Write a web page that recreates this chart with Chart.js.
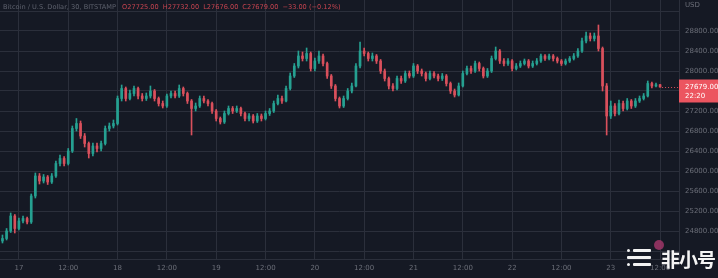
<!DOCTYPE html>
<html>
<head>
<meta charset="utf-8">
<script src="https://cdn.jsdelivr.net/npm/chart.js@4.4.0/dist/chart.umd.min.js"></script>
<style>
html, body { margin: 0; padding: 0; background: #151924; }
#wrap { position: relative; width: 718px; height: 278px; overflow: hidden; }
#legend { position: absolute; left: 3px; top: 3px; font: 6.6px "DejaVu Sans", sans-serif; color: #5d616d; white-space: nowrap; }
#legend span { color: #c4434f; margin-left: 4px; }
#mark { position: absolute; left: 624px; top: 240px; width: 94px; height: 34px; }
#mark .bar { position: absolute; height: 3px; background: #f2f2f2; border-radius: 1px; }
#mark .dot { position: absolute; width: 3px; height: 3px; background: #f2f2f2; border-radius: 2px; }
#mark .ring { position: absolute; left: 30px; top: 0px; width: 10px; height: 10px; border-radius: 6px; background: #a8376c; opacity: 0.8; }
#mark .txt { position: absolute; left: 37px; top: 5px; font: bold 19px "Noto Sans CJK SC", sans-serif; color: #f4f4f4; letter-spacing: -1px; }
</style>
</head>
<body>
<div id="wrap">
  <canvas id="chart" width="718" height="278"></canvas>
  <div id="legend">Bitcoin / U.S. Dollar, 30, BITSTAMP <span>O27725.00</span><span>H27732.00</span><span>L27676.00</span><span>C27679.00</span><span>−33.00 (−0.12%)</span></div>
  <div id="mark">
    <div class="dot" style="left:3px;top:9px"></div>
    <div class="bar" style="left:9px;top:9px;width:18px"></div>
    <div class="bar" style="left:3px;top:16px;width:24px"></div>
    <div class="dot" style="left:3px;top:23px"></div>
    <div class="bar" style="left:9px;top:23px;width:18px"></div>
    <div class="ring"></div>
    <div class="txt">非小号</div>
  </div>
</div>
<script>
// hourly candles, first one at hour -4 (20:00 on the 16th)
var firstHour = -4;
var dayLabels = ['17', '18', '19', '20', '21', '22', '23'];
var timeTicks = [0, 12, 24, 36, 48, 60, 72, 84, 96, 108, 120, 132, 144, 156];
var priceTicks = [24400, 24800, 25200, 25600, 26000, 26400, 26800, 27200, 27600, 28000, 28400, 28800, 29200];

var opens = [24600,24650,24800,25100,24850,25000,25050,24980,25500,25900,
  25800,25880,25780,25900,26150,26250,26150,26400,26850,26950,
  26700,26550,26350,26500,26450,26550,26850,26900,26950,27450,
  27650,27450,27550,27650,27500,27450,27500,27600,27450,27350,
  27300,27500,27550,27500,27650,27550,27400,27250,27300,27450,
  27400,27350,27200,27050,26980,27150,27250,27200,27250,27150,
  27050,27100,27000,27100,27050,27150,27200,27350,27450,27400,
  27650,27900,28100,28300,28250,28350,28050,28200,28300,28150,
  27900,27700,27450,27300,27450,27600,27700,28100,28400,28350,
  28250,28300,28200,28000,27850,27700,27650,27850,27800,27950,
  27900,28100,28000,27950,27850,27950,27900,27850,27900,27750,
  27600,27520,27700,27950,28050,28000,28150,28050,27900,28000,
  28250,28400,28200,28150,28200,28050,28100,28150,28200,28100,
  28150,28200,28300,28250,28300,28250,28200,28150,28200,28250,
  28300,28400,28600,28700,28650,28700,28450,27700,27100,27300,
  27150,27350,27250,27400,27300,27400,27450,27500,27750,27700,
  27725];

var highs = [24720,24850,25160,25130,25060,25100,25080,25540,25960,25950,
  25930,25910,25950,26200,26320,26290,26450,26900,27050,27000,
  26750,26580,26560,26560,26600,26900,26960,27020,27500,27720,
  27680,27620,27700,27680,27550,27560,27700,27630,27480,27400,
  27540,27600,27600,27720,27680,27580,27430,27360,27500,27500,
  27430,27380,27230,27080,27200,27300,27290,27300,27280,27180,
  27150,27130,27150,27140,27200,27250,27400,27520,27500,27700,
  27960,28150,28400,28380,28460,28380,28260,28400,28340,28180,
  27930,27730,27480,27500,27650,27760,28150,28580,28460,28380,
  28360,28330,28230,28040,27880,27750,27900,27900,28000,28000,
  28150,28130,28040,27980,28000,27990,27940,27950,27930,27780,
  27640,27760,28000,28100,28100,28200,28180,28080,28050,28300,
  28480,28430,28250,28250,28230,28150,28200,28240,28230,28200,
  28250,28340,28330,28340,28330,28280,28230,28240,28290,28350,
  28450,28660,28780,28760,28760,28920,28480,27750,27400,27350,
  27420,27400,27450,27430,27450,27500,27550,27800,27780,27760,
  27732];

var lows = [24560,24620,24770,24760,24820,24960,24940,24950,25460,25740,
  25760,25730,25750,25870,26100,26100,26120,26370,26800,26650,
  26480,26260,26300,26380,26400,26520,26800,26860,26920,27400,
  27400,27420,27500,27440,27400,27410,27460,27400,27300,27260,
  27270,27460,27460,27470,27500,27350,26720,27200,27270,27360,
  27300,27150,27000,26940,26950,27120,27150,27170,27100,27000,
  27000,26960,26970,27000,27020,27110,27170,27320,27350,27380,
  27620,27870,28060,28200,28200,28000,28000,28150,28100,27850,
  27650,27400,27260,27270,27420,27560,27680,28060,28300,28200,
  28200,28150,27950,27800,27640,27600,27620,27750,27770,27860,
  27870,27950,27900,27800,27820,27860,27800,27810,27700,27550,
  27480,27500,27680,27920,27950,27970,28000,27860,27870,27970,
  28220,28150,28100,28110,28000,28020,28070,28120,28060,28070,
  28120,28170,28210,28220,28200,28160,28110,28120,28170,28220,
  28270,28370,28560,28600,28600,28400,27600,26720,27050,27100,
  27120,27200,27220,27250,27270,27370,27420,27480,27660,27680,
  27676];

var closes = [24650,24800,25100,24850,25000,25050,24980,25500,25900,25800,
  25880,25780,25900,26150,26250,26150,26400,26850,26950,26700,
  26550,26350,26500,26450,26550,26850,26900,26950,27450,27650,
  27450,27550,27650,27500,27450,27500,27600,27450,27350,27300,
  27500,27550,27500,27650,27550,27400,27250,27300,27450,27400,
  27350,27200,27050,26980,27150,27250,27200,27250,27150,27050,
  27100,27000,27100,27050,27150,27200,27350,27450,27400,27650,
  27900,28100,28300,28250,28350,28050,28200,28300,28150,27900,
  27700,27450,27300,27450,27600,27700,28100,28400,28350,28250,
  28300,28200,28000,27850,27700,27650,27850,27800,27950,27900,
  28100,28000,27950,27850,27950,27900,27850,27900,27750,27600,
  27520,27700,27950,28050,28000,28150,28050,27900,28000,28250,
  28400,28200,28150,28200,28050,28100,28150,28200,28100,28150,
  28200,28300,28250,28300,28250,28200,28150,28200,28250,28300,
  28400,28600,28700,28650,28700,28450,27700,27100,27300,27150,
  27350,27250,27400,27300,27400,27450,27500,27750,27700,27725,
  27679];

var upColor = '#26a091';
var downColor = '#d9505c';

var wicks = [];
var bodies = [];
var colors = [];
for (var i = 0; i < closes.length; i++) {
    var h = firstHour + i;
    wicks.push({x: h, y: [lows[i], highs[i]]});
    bodies.push({x: h, y: [opens[i], closes[i]]});
    colors.push(closes[i] >= opens[i] ? upColor : downColor);
}

var gridColor = '#2b2f3b';
var tickColor = '#6b6e78';

var extras = {
    id: 'extras',
    beforeDraw: function (chart) {
        var c = chart.ctx;
        c.save();
        c.fillStyle = '#151924';
        c.fillRect(0, 0, chart.width, chart.height);
        c.restore();
    },
    afterDraw: function (chart) {
        var c = chart.ctx;
        var a = chart.chartArea;
        var last = closes[closes.length - 1];
        var py = Math.round(chart.scales.y.getPixelForValue(last)) + 0.5;
        var lx = chart.scales.x.getPixelForValue(firstHour + closes.length - 1);
        c.save();
        c.strokeStyle = downColor;
        c.lineWidth = 1;
        c.setLineDash([1, 2]);
        c.beginPath();
        c.moveTo(lx + 2, py);
        c.lineTo(a.right, py);
        c.stroke();
        c.setLineDash([]);
        c.fillStyle = '#ec5560';
        c.fillRect(a.right, py - 8, chart.width - a.right, 23);
        c.fillStyle = '#ffffff';
        c.font = '7px "DejaVu Sans"';
        c.textAlign = 'left';
        c.textBaseline = 'middle';
        c.fillText(last.toFixed(2), a.right + 6, py);
        c.fillText('22:20', a.right + 6, py + 9);
        c.fillStyle = tickColor;
        c.fillText('USD', a.right + 6, 5);
        c.restore();
    }
};

new Chart(document.getElementById('chart'), {
    type: 'bar',
    data: {
        datasets: [
            {data: wicks, backgroundColor: colors, barThickness: 1, grouped: false, borderWidth: 0},
            {data: bodies, backgroundColor: colors, barThickness: 2, grouped: false, borderWidth: 0, minBarLength: 1}
        ]
    },
    options: {
        responsive: false,
        animation: false,
        layout: {padding: 0},
        plugins: {legend: {display: false}, tooltip: {enabled: false}},
        scales: {
            x: {
                type: 'linear',
                offset: false,
                min: -4.6,
                max: 160.6,
                afterFit: function (s) {
                    s.height = 19;
                    s.paddingLeft = 0;
                    s.paddingRight = 0;
                },
                afterBuildTicks: function (s) {
                    s.ticks = timeTicks.map(function (v) { return {value: v}; });
                },
                grid: {color: gridColor, drawTicks: false, offset: false},
                border: {color: gridColor},
                ticks: {
                    autoSkip: false,
                    maxRotation: 0,
                    padding: 5,
                    color: tickColor,
                    font: {family: 'DejaVu Sans', size: 7},
                    callback: function (v) {
                        if (v % 24 === 0) return dayLabels[v / 24];
                        return '12:00';
                    }
                }
            },
            y: {
                position: 'right',
                min: 24240,
                max: 29420,
                afterFit: function (s) {
                    s.width = 39;
                    s.paddingTop = 0;
                    s.paddingBottom = 0;
                },
                afterBuildTicks: function (s) {
                    s.ticks = priceTicks.map(function (v) { return {value: v}; });
                },
                grid: {color: gridColor, drawTicks: false},
                border: {color: gridColor},
                ticks: {
                    autoSkip: false,
                    padding: 6,
                    color: tickColor,
                    font: {family: 'DejaVu Sans', size: 7},
                    callback: function (v) {
                        if (v === 29200 || v === 24400) return '';
                        return v.toFixed(2);
                    }
                }
            }
        }
    },
    plugins: [extras]
});
</script>
</body>
</html>
